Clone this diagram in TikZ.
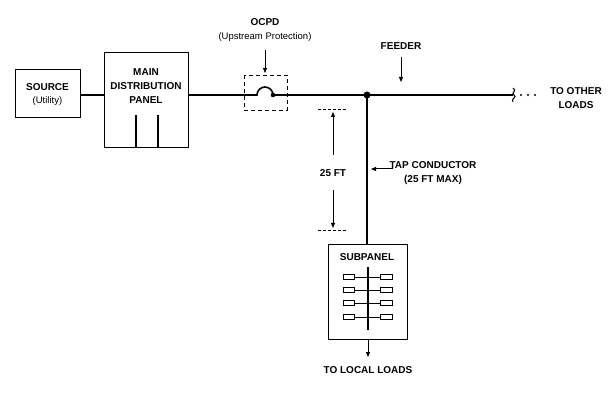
\documentclass[tikz,border=0pt]{standalone}
\usepackage{fontspec}
\setmainfont{Liberation Sans}
\usetikzlibrary{arrows.meta}
\begin{document}
\begin{tikzpicture}[x=1pt,y=-1pt,
  lbl/.style={font=\bfseries\fontsize{10}{12}\selectfont,align=center,inner sep=0},
  box/.style={draw,line width=1pt,fill=white},
  wire/.style={line width=1.6pt},
  arr/.style={line width=1pt,-{Triangle[length=5pt,width=4pt]}},
  tick/.style={line width=0.7pt,dash pattern=on 3pt off 2pt}]
\useasboundingbox (0,0) rectangle (614,409);
% wires
\coordinate (srcR) at (80,95);
\coordinate (mpL) at (104,95);
\coordinate (mpR) at (188,95);
\coordinate (fA) at (257,95);
\coordinate (fB) at (273,95);
\coordinate (J) at (367,95);
\coordinate (E) at (513,95);
\draw[wire] (srcR) -- (mpL);
\draw[wire] (mpR) -- (fA) arc[start angle=180,end angle=360,radius=8] -- (J) -- (E);
\fill (fB) circle (2.3);
\fill (J) circle (3.5);
\draw[line width=1pt] (513,88) .. controls (518,91) and (510,93) .. (514,95) .. controls (518,97) and (510,99) .. (513,102);
\foreach \x in {521,528,535} \fill (\x,95) circle (1.2);
% boxes
\node[box,minimum width=65,minimum height=48,lbl] (src) at (47.5,94) {SOURCE\\[1pt]{\mdseries\fontsize{9.5}{11}\selectfont(Utility)}};
\draw[box] (104,53) rectangle (188,148);
\node[lbl] (mp) at (146,86) {MAIN\\[2pt]DISTRIBUTION\\[2pt]PANEL};
\draw[line width=1.4pt] (136,115) -- (136,147) (158,115) -- (158,147);
\draw[line width=0.8pt,dash pattern=on 4pt off 3pt] (244,75) rectangle (287,110);
\node[lbl] (ocpd) at (265,30) {OCPD\\[2pt]{\mdseries\fontsize{9.5}{11}\selectfont(Upstream Protection)}};
\coordinate (oa) at (265,50); \coordinate (ob) at (265,73);
\draw[arr] (oa) -- (ob);
\node[lbl] (feed) at (401,46) {FEEDER};
\coordinate (fa) at (401,57); \coordinate (fb) at (401,82);
\draw[arr] (fa) -- (fb);
\node[lbl] (other) at (576,98) {TO OTHER\\[2pt]LOADS};
% tap
\coordinate (S) at (367,245);
\draw[wire] (J) -- (S);
\draw[box] (328,245) rectangle (407,339);
\node[lbl] (sub) at (367,257) {SUBPANEL};
\draw[line width=1.4pt] (368,267) -- (368,330);
\foreach \y in {277,290,303,317}{
  \draw[line width=0.8pt] (354,\y) -- (380,\y);
  \draw[line width=0.8pt,fill=white] (343,\y-2.5) rectangle (354,\y+2.5);
  \draw[line width=0.8pt,fill=white] (380,\y-2.5) rectangle (392,\y+2.5);
}
\coordinate (la) at (368,339); \coordinate (lb) at (368,357);
\draw[arr] (la) -- (lb);
\node[lbl] (local) at (368,370) {TO LOCAL LOADS};
\coordinate (ta) at (393,169); \coordinate (tb) at (371,169);
\draw[arr] (ta) -- (tb);
\node[lbl] (tap) at (433,173) {TAP CONDUCTOR\\[2pt](25 FT MAX)};
% dimension
\draw[tick] (318,109) -- (347,109);
\draw[tick] (318,230) -- (347,230);
\coordinate (d1) at (333,155); \coordinate (d2) at (333,112);
\coordinate (d3) at (333,190); \coordinate (d4) at (333,228);
\draw[arr] (d1) -- (d2);
\draw[arr] (d3) -- (d4);
\node[lbl] (ft) at (333,173) {25 FT};
\end{tikzpicture}
\end{document}
